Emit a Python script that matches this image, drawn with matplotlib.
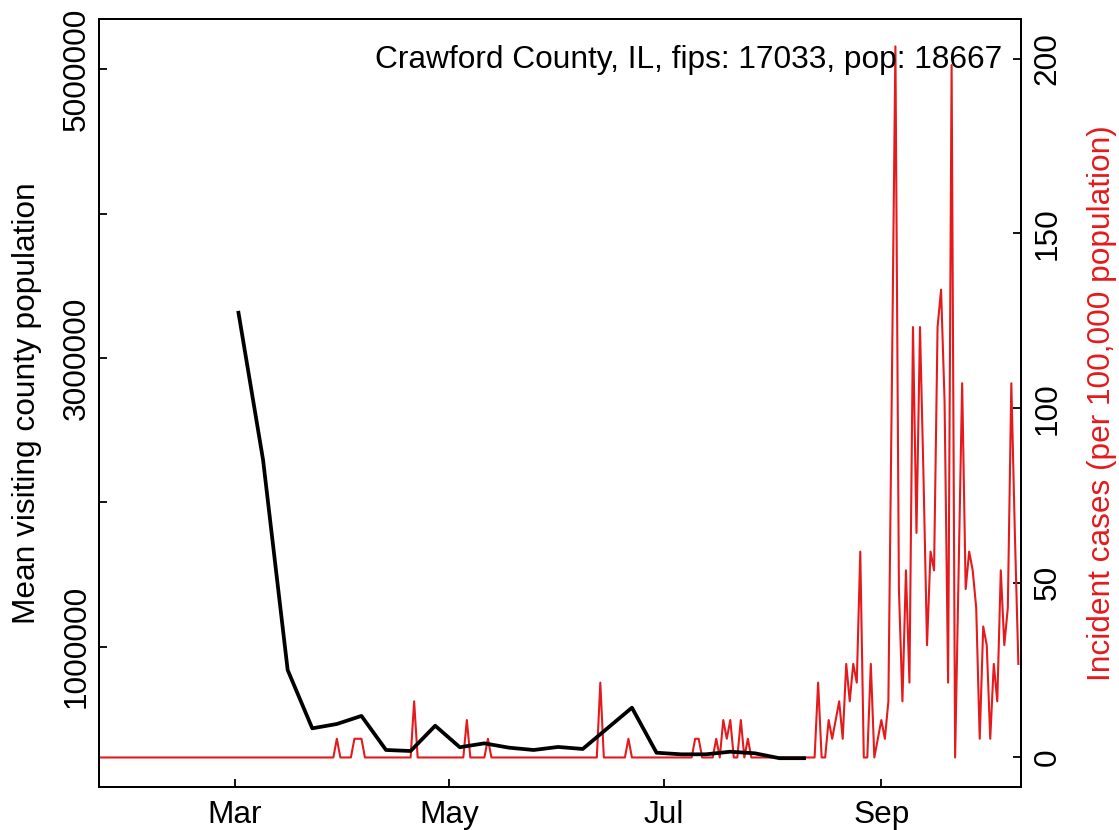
import matplotlib
matplotlib.use("Agg")
import matplotlib.pyplot as plt
import pandas as pd

plt.rcParams['font.family'] = ['Liberation Sans', 'DejaVu Sans']

# county info
county_label = "Crawford County, IL, fips: 17033, pop: 18667"
county_pop = 18667

# weekly mean visiting county population (black line)
visit_dates = pd.date_range("2020-03-02", "2020-08-10", freq="7D")
visit_pop = [3313000, 2293000, 838000, 434000, 464000, 520000, 284000, 277000,
             452000, 303000, 330000, 300000, 284000, 305000, 291000, 434000,
             577000, 265000, 254000, 254000, 272000, 261000, 227000, 227000]

# daily new cases, only the days with cases (all other days are 0)
case_days = ["2020-03-30", "2020-04-04", "2020-04-05", "2020-04-06", "2020-04-21",
             "2020-05-06", "2020-05-12", "2020-06-13", "2020-06-21", "2020-07-10",
             "2020-07-11", "2020-07-16", "2020-07-18", "2020-07-19", "2020-07-20",
             "2020-07-23", "2020-07-25", "2020-08-14", "2020-08-17", "2020-08-18",
             "2020-08-19", "2020-08-20", "2020-08-21", "2020-08-22", "2020-08-23",
             "2020-08-24", "2020-08-25", "2020-08-26", "2020-08-29", "2020-08-31",
             "2020-09-01", "2020-09-02", "2020-09-03", "2020-09-04", "2020-09-05",
             "2020-09-06", "2020-09-07", "2020-09-08", "2020-09-09", "2020-09-10",
             "2020-09-11", "2020-09-12", "2020-09-13", "2020-09-14", "2020-09-15",
             "2020-09-16", "2020-09-17", "2020-09-18", "2020-09-19", "2020-09-20",
             "2020-09-21", "2020-09-23", "2020-09-24", "2020-09-25", "2020-09-26",
             "2020-09-27", "2020-09-28", "2020-09-29", "2020-09-30", "2020-10-01",
             "2020-10-02", "2020-10-03", "2020-10-04", "2020-10-05", "2020-10-06",
             "2020-10-07", "2020-10-08", "2020-10-09", "2020-10-10"]
case_counts = [1, 1, 1, 1, 3,
               2, 1, 4, 1, 1,
               1, 1, 2, 1, 2,
               2, 1, 4, 2, 1,
               2, 3, 1, 5, 3,
               5, 4, 11, 5, 1,
               2, 1, 3, 20, 38,
               9, 3, 10, 4, 23,
               12, 23, 15, 6, 11,
               10, 23, 25, 19, 4,
               37, 10, 20, 9, 11,
               10, 8, 1, 7, 6,
               1, 5, 3, 10, 6,
               8, 20, 12, 5]

month_ticks = ["2020-03-01", "2020-05-01", "2020-07-01", "2020-09-01"]
month_labels = ["Mar", "May", "Jul", "Sep"]

cases = pd.Series(case_counts, index=pd.to_datetime(case_days))
all_days = pd.date_range("2020-01-21", "2020-10-10", freq="D")
cases = cases.reindex(all_days, fill_value=0)
incidence = cases * 100000 / county_pop

red = "#E41A1C"
fs = 22.8

fig = plt.figure(figsize=(11.19, 8.30), dpi=100)
ax = fig.add_axes([0.0889, 0.0522, 0.8232, 0.9249])
ax2 = ax.twinx()
# black line drawn above the red one
ax.set_zorder(ax2.get_zorder() + 1)
ax.patch.set_visible(False)

ax2.plot(incidence.index, incidence.values, color=red, lw=1.5)
ax.plot(visit_dates, visit_pop, color="black", lw=2.7)

mar1 = pd.Timestamp("2020-03-01")
ax.set_xlim(mar1 - pd.Timedelta(days=38.57), mar1 + pd.Timedelta(days=223.65))
ax.set_ylim(29800, 5348000)
ax2.set_ylim(-8.36, 211.4)

ax.set_xticks(pd.to_datetime(month_ticks))
ax.set_xticklabels(month_labels)
ax.set_yticks([1000000, 2000000, 3000000, 4000000, 5000000])
ax.set_yticklabels(["1000000", "", "3000000", "", "5000000"], rotation=90, va="center")
ax2.set_yticks([0, 50, 100, 150, 200])
ax2.set_yticklabels(["0", "50", "100", "150", "200"], rotation=90, va="center")

ax.tick_params(axis="x", direction="in", length=6, width=1.3, labelsize=fs, pad=9.4)
ax.tick_params(axis="y", direction="in", length=6, width=1.3, labelsize=fs, pad=5.8)
ax2.tick_params(axis="y", direction="in", length=6, width=1.3, labelsize=fs, pad=8.4)

for a in (ax, ax2):
    for s in a.spines.values():
        s.set_linewidth(1.4)

ax.set_ylabel("Mean visiting county population", fontsize=fs, va="center")
ax.yaxis.set_label_coords(-0.079, 0.5)
ax2.set_ylabel("Incident cases (per 100,000 population)", fontsize=fs, color=red,
               va="center", rotation=90)
ax2.yaxis.set_label_coords(1.0888, 0.5)

ax.text(0.9797, 0.9358, county_label, transform=ax.transAxes, ha="right",
        va="baseline", fontsize=fs)

fig.savefig("out.png", dpi=100)
